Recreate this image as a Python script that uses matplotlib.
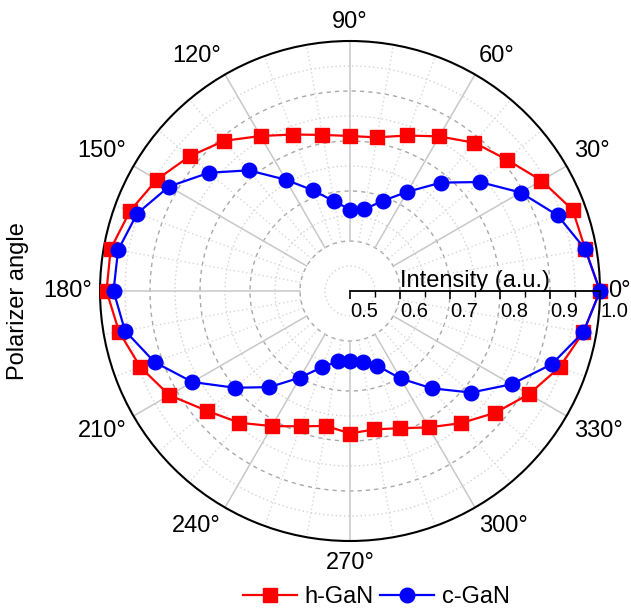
#!/usr/bin/env python3
"""Polar plot of PL intensity vs. polarizer angle for h-GaN and c-GaN."""

import matplotlib

matplotlib.use("Agg")
import matplotlib.pyplot as plt
import numpy as np

plt.rcParams["font.family"] = ["Liberation Sans", "DejaVu Sans"]

# Polarizer angle (deg) and normalised intensity
angles_deg = list(range(0, 360, 10))
h_gan = [1.000, 0.978, 0.974, 0.942, 0.909, 0.887, 0.857, 0.831, 0.812,
         0.810, 0.817, 0.833, 0.858, 0.892, 0.919, 0.946, 0.968, 0.986,
         0.987, 0.969, 0.946, 0.917, 0.873, 0.844, 0.812, 0.788, 0.774,
         0.785, 0.781, 0.792, 0.815, 0.845, 0.879, 0.913, 0.946, 0.974]
c_gan = [1.000, 0.978, 0.942, 0.894, 0.839, 0.783, 0.729, 0.692, 0.666,
         0.663, 0.682, 0.714, 0.757, 0.815, 0.868, 0.918, 0.953, 0.971,
         0.973, 0.957, 0.916, 0.864, 0.801, 0.751, 0.700, 0.662, 0.643,
         0.640, 0.644, 0.659, 0.702, 0.754, 0.816, 0.873, 0.929, 0.974]

angle_labels = [f"{a}°" for a in range(0, 360, 30)]
r_ticks = [0.5, 0.6, 0.7, 0.8, 0.9, 1.0]

RED = "#ff0000"
BLUE = "#0000ff"

W, H = 631, 611
fig = plt.figure(figsize=(W / 100, H / 100), dpi=100)
cx, cy, rad = 350, 291, 250
ax = fig.add_axes([(cx - rad) / W, (H - cy - rad) / H, 2 * rad / W, 2 * rad / H],
                  projection="polar")
ax.grid(False)
ax.set_yticks([])
ax.spines["polar"].set_linewidth(1.5)
ax.spines["polar"].set_color("black")

# outer ring ticks (pointing inward)
ax.set_xticks(np.radians(range(0, 360, 30)))
ax.set_xticklabels([])
ax.set_xticks(np.radians([a for a in range(0, 360, 10) if a % 30]), minor=True)
ax.tick_params(axis="x", which="major", direction="in", length=9, width=1.2, color="black")
ax.tick_params(axis="x", which="minor", direction="in", length=5, width=1.0, color="black")

# grid: circles and spokes
full = np.linspace(0, 2 * np.pi, 721)
for r in [0.6, 0.7, 0.8, 0.9]:
    ax.plot(full, [r] * len(full), color="#a8a8a8", lw=1.0, ls=(0, (3, 3)), zorder=1)
for r in [0.55, 0.65, 0.75, 0.85, 0.95]:
    ax.plot(full, [r] * len(full), color="#d4d4d4", lw=1.0, ls=(0, (1, 2)), zorder=1)
for a in range(0, 360, 10):
    t = np.radians(a)
    if a % 30 == 0:
        ax.plot([t, t], [0.6, 1.0], color="#c8c8c8", lw=1.1, zorder=1)
    else:
        ax.plot([t, t], [0.6, 1.0], color="#d8d8d8", lw=1.0, ls=(0, (1, 2)), zorder=1)

# data
th = np.radians(angles_deg + [angles_deg[0]])
ax.plot(th, h_gan + [h_gan[0]], color=RED, lw=1.6, marker="s", ms=10,
        markevery=list(range(len(angles_deg))), clip_on=False, zorder=3, label="h-GaN")
ax.plot(th, c_gan + [c_gan[0]], color=BLUE, lw=1.6, marker="o", ms=10.5,
        markevery=list(range(len(angles_deg))), clip_on=False, zorder=4, label="c-GaN")

# fix radial range after plotting so autoscaling does not move it
ax.set_ylim(0.5, 1.0)
ax.set_rorigin(0.5)

# angle labels outside the ring
for a, lab in zip(range(0, 360, 30), angle_labels):
    t = np.radians(a)
    c, s = np.cos(t), np.sin(t)
    ha = "center" if abs(c) < 0.1 else ("left" if c > 0 else "right")
    va = "center" if abs(s) < 0.1 else ("bottom" if s > 0 else "top")
    off = 8 if a == 270 else 6
    ax.annotate(lab, xy=(t, 1.0), xytext=(off * c, off * s), textcoords="offset points",
                ha=ha, va=va, fontsize=17, annotation_clip=False)

# radial intensity axis drawn along 0°
ax2 = fig.add_axes([cx / W, (H - cy) / H, rad / W, 0.0001])
ax2.patch.set_visible(False)
for side in ["left", "right", "top"]:
    ax2.spines[side].set_visible(False)
ax2.spines["bottom"].set_linewidth(1.3)
ax2.set_xlim(0.5, 1.0)
ax2.set_yticks([])
ax2.set_xticks(r_ticks)
ax2.set_xticklabels([f"{v:.1f}" for v in r_ticks], fontsize=14.5)
ax2.set_xticks(np.arange(0.55, 1.0, 0.1), minor=True)
ax2.tick_params(axis="x", which="major", direction="out", length=6, width=1.2, pad=2)
ax2.tick_params(axis="x", which="minor", direction="out", length=4, width=1.0)
for lab in ax2.get_xticklabels():
    lab.set_ha("left")
ax2.xaxis.set_label_position("top")
ax2.set_xlabel("Intensity (a.u.)", fontsize=17, labelpad=3)

fig.text(18 / W, 1 - 301 / H, "Polarizer angle", rotation=90, fontsize=17,
         ha="center", va="center")

ax.legend(loc="center", bbox_to_anchor=(376 / W, 1 - 597 / H),
          bbox_transform=fig.transFigure, ncol=2, frameon=False, fontsize=17,
          handlelength=2.3, handletextpad=0.3, columnspacing=0.3)

fig.savefig("out.png", dpi=100)
